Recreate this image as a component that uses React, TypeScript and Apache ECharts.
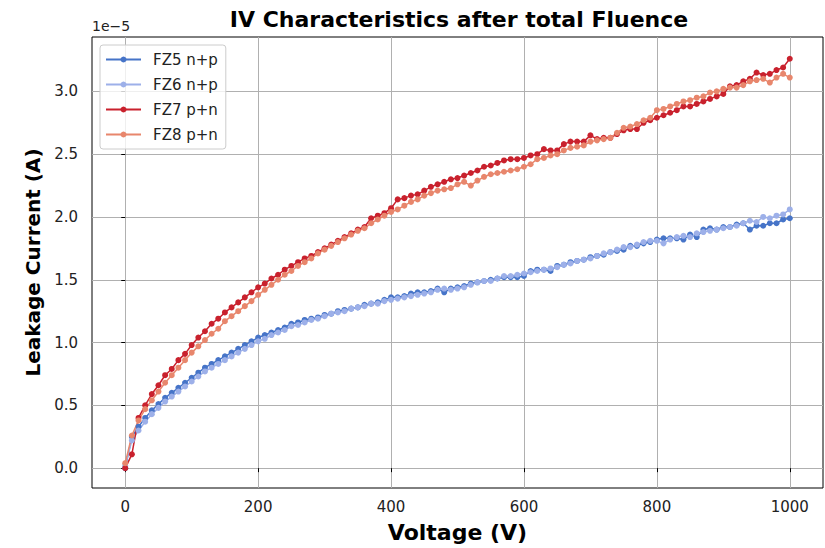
import React, { useEffect, useRef } from "react";
import * as echarts from "echarts";

// Bias voltage (V)
const voltage = [
  0, 10, 20, 30, 40, 50, 60, 70, 80, 90,
  100, 110, 120, 130, 140, 150, 160, 170, 180, 190,
  200, 210, 220, 230, 240, 250, 260, 270, 280, 290,
  300, 310, 320, 330, 340, 350, 360, 370, 380, 390,
  400, 410, 420, 430, 440, 450, 460, 470, 480, 490,
  500, 510, 520, 530, 540, 550, 560, 570, 580, 590,
  600, 610, 620, 630, 640, 650, 660, 670, 680, 690,
  700, 710, 720, 730, 740, 750, 760, 770, 780, 790,
  800, 810, 820, 830, 840, 850, 860, 870, 880, 890,
  900, 910, 920, 930, 940, 950, 960, 970, 980, 990,
  1000,
];

// Leakage current in units of 1e-5 A
const fz5 = [
  0.00, 0.25, 0.33, 0.40, 0.46, 0.51, 0.56, 0.60, 0.64, 0.68,
  0.72, 0.76, 0.80, 0.83, 0.86, 0.89, 0.92, 0.95, 0.98, 1.01,
  1.04, 1.06, 1.08, 1.10, 1.12, 1.15, 1.16, 1.18, 1.19, 1.20,
  1.22, 1.23, 1.25, 1.26, 1.27, 1.28, 1.30, 1.31, 1.32, 1.34,
  1.36, 1.36, 1.37, 1.39, 1.40, 1.40, 1.41, 1.43, 1.40, 1.43,
  1.44, 1.45, 1.47, 1.48, 1.49, 1.50, 1.51, 1.52, 1.52, 1.52,
  1.53, 1.57, 1.58, 1.58, 1.57, 1.61, 1.62, 1.64, 1.65, 1.66,
  1.68, 1.69, 1.70, 1.72, 1.73, 1.74, 1.77, 1.77, 1.79, 1.80,
  1.82, 1.83, 1.83, 1.83, 1.82, 1.86, 1.84, 1.90, 1.91, 1.90,
  1.92, 1.92, 1.94, 1.95, 1.90, 1.93, 1.93, 1.95, 1.95, 1.98,
  1.99,
];

const fz6 = [
  0.02, 0.22, 0.30, 0.37, 0.43, 0.48, 0.53, 0.57, 0.61, 0.65,
  0.69, 0.73, 0.77, 0.80, 0.83, 0.86, 0.89, 0.92, 0.95, 0.98,
  1.01, 1.03, 1.06, 1.08, 1.10, 1.13, 1.14, 1.16, 1.18, 1.19,
  1.21, 1.23, 1.24, 1.25, 1.27, 1.28, 1.29, 1.31, 1.31, 1.33,
  1.34, 1.35, 1.36, 1.37, 1.38, 1.39, 1.40, 1.42, 1.43, 1.42,
  1.43, 1.44, 1.46, 1.48, 1.49, 1.49, 1.51, 1.53, 1.53, 1.54,
  1.55, 1.56, 1.57, 1.58, 1.59, 1.60, 1.62, 1.63, 1.65, 1.66,
  1.67, 1.69, 1.71, 1.72, 1.74, 1.76, 1.76, 1.78, 1.80, 1.81,
  1.81, 1.79, 1.82, 1.84, 1.85, 1.84, 1.87, 1.88, 1.89, 1.90,
  1.91, 1.92, 1.93, 1.95, 1.97, 1.96, 2.00, 1.99, 2.01, 2.02,
  2.06,
];

const fz7 = [
  0.00, 0.11, 0.40, 0.50, 0.59, 0.66, 0.74, 0.79, 0.86, 0.91,
  0.98, 1.04, 1.09, 1.15, 1.19, 1.24, 1.28, 1.32, 1.36, 1.40,
  1.44, 1.47, 1.51, 1.54, 1.58, 1.61, 1.64, 1.67, 1.69, 1.72,
  1.75, 1.78, 1.81, 1.84, 1.87, 1.90, 1.92, 1.99, 2.01, 2.03,
  2.07, 2.14, 2.15, 2.17, 2.18, 2.21, 2.24, 2.26, 2.28, 2.30,
  2.31, 2.33, 2.35, 2.37, 2.40, 2.41, 2.43, 2.45, 2.46, 2.46,
  2.47, 2.49, 2.50, 2.54, 2.53, 2.53, 2.58, 2.60, 2.60, 2.60,
  2.65, 2.62, 2.63, 2.63, 2.66, 2.69, 2.70, 2.70, 2.75, 2.77,
  2.79, 2.81, 2.83, 2.85, 2.88, 2.88, 2.90, 2.92, 2.94, 2.96,
  2.98, 3.04, 3.05, 3.08, 3.10, 3.15, 3.13, 3.14, 3.17, 3.19,
  3.26,
];

const fz8 = [
  0.04, 0.26, 0.38, 0.47, 0.54, 0.61, 0.68, 0.74, 0.80, 0.86,
  0.92, 0.97, 1.02, 1.07, 1.11, 1.17, 1.21, 1.25, 1.29, 1.33,
  1.38, 1.42, 1.46, 1.50, 1.54, 1.57, 1.61, 1.64, 1.67, 1.71,
  1.74, 1.77, 1.80, 1.83, 1.86, 1.89, 1.91, 1.95, 1.98, 2.01,
  2.04, 2.06, 2.09, 2.12, 2.14, 2.17, 2.19, 2.21, 2.22, 2.23,
  2.26, 2.28, 2.25, 2.29, 2.32, 2.34, 2.35, 2.36, 2.37, 2.38,
  2.40, 2.42, 2.46, 2.47, 2.49, 2.50, 2.53, 2.55, 2.56, 2.57,
  2.60, 2.61, 2.62, 2.63, 2.67, 2.71, 2.72, 2.74, 2.77, 2.79,
  2.85, 2.86, 2.88, 2.90, 2.92, 2.93, 2.95, 2.96, 2.99, 3.00,
  3.02, 3.03, 3.03, 3.05, 3.08, 3.09, 3.10, 3.07, 3.11, 3.14,
  3.11,
];

const seriesNames = ["FZ5 n+p", "FZ6 n+p", "FZ7 p+n", "FZ8 p+n"];
const seriesValues = [fz5, fz6, fz7, fz8];
const seriesColors = ["#4674c8", "#9db0e9", "#c9212d", "#e8866c"];

const xTicks = [0, 200, 400, 600, 800, 1000];
const yTicks = [0, 0.5, 1.0, 1.5, 2.0, 2.5, 3.0];

const FONT = "DejaVu Sans";

export default function App() {
  const ref = useRef<HTMLDivElement>(null);

  useEffect(() => {
    const chart = echarts.init(ref.current!, null, { renderer: "svg" });
    chart.setOption({
      animation: false,
      backgroundColor: "#ffffff",
      textStyle: { fontFamily: FONT },
      grid: {
        left: 92,
        right: 2,
        top: 37,
        bottom: 56,
        show: true,
        borderColor: "#000000",
        borderWidth: 1,
        backgroundColor: "transparent",
      },
      graphic: [
        {
          type: "text",
          x: 459,
          y: 8,
          style: {
            text: "IV Characteristics after total Fluence",
            textAlign: "center",
            textVerticalAlign: "top",
            fontFamily: FONT,
            fontWeight: "bold",
            fontSize: 22,
            fill: "#000",
          },
        },
        {
          type: "text",
          x: 92,
          y: 19,
          style: {
            text: "1e\u22125",
            textAlign: "left",
            textVerticalAlign: "top",
            fontFamily: FONT,
            fontSize: 14,
            fill: "#222",
          },
        },
      ],
      legend: {
        orient: "vertical",
        left: 100,
        top: 45,
        padding: [7, 8, 7, 5],
        itemWidth: 35,
        itemHeight: 7.5,
        itemGap: 10,
        backgroundColor: "rgba(255,255,255,0.8)",
        borderColor: "#cccccc",
        borderWidth: 1,
        borderRadius: 3,
        textStyle: {
          fontFamily: FONT,
          fontSize: 15,
          color: "#222",
          padding: [0, 0, 0, 7],
        },
        data: seriesNames,
      },
      xAxis: {
        type: "value",
        min: -50,
        max: 1050,
        name: "Voltage (V)",
        nameLocation: "middle",
        nameGap: 33,
        nameTextStyle: { fontFamily: FONT, fontWeight: "bold", fontSize: 22, color: "#000" },
        axisLine: { show: false },
        axisTick: { show: true, inside: false, length: 4, customValues: xTicks, lineStyle: { color: "#000" } },
        axisLabel: {
          customValues: xTicks,
          margin: 11,
          fontFamily: FONT,
          fontSize: 15,
          color: "#222",
          formatter: (v: number) => String(v),
        },
        splitLine: { show: true, lineStyle: { color: "#b0b0b0", width: 1 } },
      },
      yAxis: {
        type: "value",
        min: -0.158,
        max: 3.433,
        name: "Leakage Current (A)",
        nameLocation: "middle",
        nameGap: 46,
        nameRotate: 90,
        nameTextStyle: { fontFamily: FONT, fontWeight: "bold", fontSize: 20, color: "#000" },
        axisLine: { show: false },
        axisTick: { show: true, inside: false, length: 4, customValues: yTicks, lineStyle: { color: "#000" } },
        axisLabel: {
          customValues: yTicks,
          margin: 14,
          fontFamily: FONT,
          fontSize: 15,
          color: "#222",
          formatter: (v: number) => v.toFixed(1),
        },
        splitLine: { show: true, lineStyle: { color: "#b0b0b0", width: 1 } },
      },
      series: seriesNames.map((name, i) => ({
        name,
        type: "line",
        data: voltage.map((v, j) => [v, seriesValues[i][j]]),
        symbol: "circle",
        symbolSize: 6,
        showSymbol: true,
        lineStyle: { color: seriesColors[i], width: 1.5 },
        itemStyle: { color: seriesColors[i] },
        emphasis: { disabled: true },
      })),
    });
    return () => chart.dispose();
  }, []);

  return (
    <div
      ref={ref}
      style={{ position: "fixed", left: 0, top: 0, width: 825, height: 548, background: "#fff" }}
    />
  );
}
